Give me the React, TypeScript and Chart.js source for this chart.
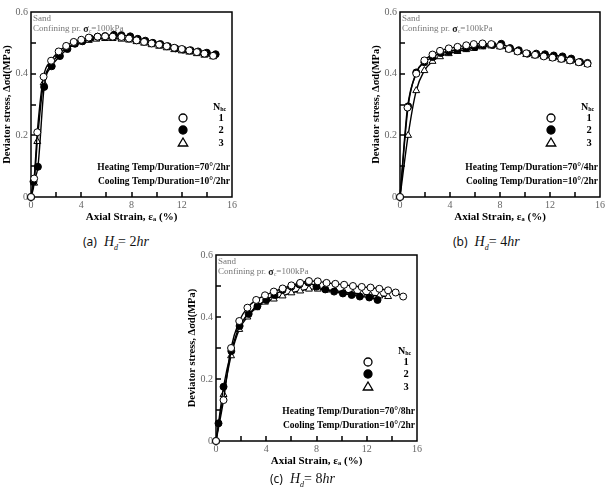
import React, { useEffect, useRef } from 'react';
import { Chart, registerables } from 'chart.js';

Chart.register(...registerables);

const SERIF = '"Liberation Serif", "Times New Roman", serif';

// ---------- axis definitions ----------
const X_TICKS = [0, 4, 8, 12, 16];
const Y_TICKS = [0, 0.2, 0.4, 0.6];
const X_TICK_MARKS = [2, 4, 6, 8, 10, 12, 14];
const Y_TICK_MARKS = [0.1, 0.2, 0.3, 0.4, 0.5];
const SERIES_LABELS = ['1', '2', '3'];

// ---------- panel (a) Hd = 2hr ----------
const strainA1 = [0, 0.25, 0.5, 1.0, 1.6, 2.2, 2.8, 3.4, 4.0, 4.6, 5.3, 5.9, 6.5, 7.2, 7.8, 8.4, 9.0, 9.6, 10.2, 10.8, 11.4, 12.0, 12.6, 13.2, 13.8, 14.5];
const stressA1 = [0, 0.06, 0.21, 0.39, 0.442, 0.472, 0.49, 0.503, 0.51, 0.517, 0.52, 0.521, 0.52, 0.519, 0.514, 0.508, 0.503, 0.498, 0.494, 0.489, 0.484, 0.48, 0.475, 0.47, 0.465, 0.458];
const strainA2 = [0, 0.2, 0.55, 1.05, 1.65, 2.3, 2.9, 3.5, 4.1, 4.7, 5.3, 5.9, 6.6, 7.2, 7.9, 8.5, 9.1, 9.7, 10.3, 10.9, 11.5, 12.1, 12.7, 13.3, 14.0, 14.7];
const stressA2 = [0, 0.05, 0.098, 0.357, 0.424, 0.457, 0.48, 0.497, 0.505, 0.515, 0.52, 0.522, 0.526, 0.525, 0.521, 0.513, 0.507, 0.5, 0.496, 0.489, 0.482, 0.478, 0.476, 0.472, 0.468, 0.463];
const strainA3 = [0, 0.25, 0.5, 1.0, 1.6, 2.2, 2.8, 3.4, 4.0, 4.6, 5.2, 5.9, 6.5, 7.2, 7.8, 8.4, 9.0, 9.6, 10.2, 10.8, 11.4, 12.0, 12.6, 13.2, 13.8, 14.5];
const stressA3 = [0, 0.045, 0.18, 0.37, 0.43, 0.462, 0.482, 0.495, 0.503, 0.508, 0.512, 0.514, 0.514, 0.512, 0.509, 0.504, 0.499, 0.494, 0.489, 0.484, 0.478, 0.474, 0.47, 0.465, 0.46, 0.455];

// ---------- panel (b) Hd = 4hr ----------
const strainB1 = [0, 0.6, 1.3, 1.95, 2.6, 3.2, 3.9, 4.6, 5.3, 5.9, 6.6, 7.3, 8.0, 8.7, 9.4, 10.1, 10.8, 11.5, 12.2, 12.9, 13.6, 14.3, 15.0];
const stressB1 = [0, 0.29, 0.4, 0.443, 0.462, 0.474, 0.482, 0.487, 0.492, 0.496, 0.498, 0.496, 0.49, 0.48, 0.472, 0.466, 0.461, 0.456, 0.452, 0.448, 0.443, 0.437, 0.432];
const strainB2 = [0, 0.65, 1.3, 1.95, 2.6, 3.25, 3.9, 4.6, 5.3, 6.0, 6.65, 7.4, 8.1, 8.8, 9.5, 10.2, 10.9, 11.6, 12.3, 13.0, 13.7, 14.4, 15.0];
const stressB2 = [0, 0.294, 0.404, 0.437, 0.454, 0.467, 0.472, 0.478, 0.483, 0.486, 0.492, 0.493, 0.497, 0.483, 0.476, 0.465, 0.465, 0.463, 0.459, 0.456, 0.449, 0.438, 0.435];
const strainB3 = [0, 0.65, 1.3, 1.95, 2.6, 3.2, 3.9, 4.6, 5.3, 5.9, 6.6, 7.3, 8.0, 8.7, 9.4, 10.1, 10.8, 11.5, 12.2, 12.9, 13.6, 14.3, 15.0];
const stressB3 = [0, 0.2, 0.345, 0.41, 0.44, 0.455, 0.465, 0.472, 0.478, 0.482, 0.487, 0.49, 0.487, 0.478, 0.47, 0.462, 0.458, 0.455, 0.45, 0.445, 0.44, 0.435, 0.43];

// ---------- panel (c) Hd = 8hr ----------
const strainC1 = [0, 0.6, 1.2, 1.85, 2.5, 3.2, 3.9, 4.6, 5.3, 6.0, 6.7, 7.4, 8.1, 8.8, 9.5, 10.2, 10.9, 11.6, 12.3, 13.0, 13.7, 14.3, 14.9];
const stressC1 = [0, 0.132, 0.3, 0.387, 0.43, 0.455, 0.47, 0.482, 0.492, 0.502, 0.51, 0.516, 0.515, 0.51, 0.507, 0.504, 0.5, 0.497, 0.495, 0.491, 0.486, 0.479, 0.466];
const strainC2 = [0, 0.2, 0.6, 1.22, 1.88, 2.6, 3.3, 4.0, 4.65, 5.3, 6.0, 6.64, 7.35, 8.0, 8.7, 9.4, 10.1, 10.8, 11.45, 12.2, 12.86];
const stressC2 = [0, 0.057, 0.175, 0.29, 0.371, 0.41, 0.435, 0.455, 0.471, 0.487, 0.498, 0.505, 0.511, 0.498, 0.489, 0.482, 0.476, 0.471, 0.466, 0.463, 0.455];
const strainC3 = [0, 0.6, 1.2, 1.85, 2.5, 3.2, 3.9, 4.6, 5.3, 6.0, 6.7, 7.4, 8.1, 8.8, 9.5, 10.2, 10.9, 11.6, 12.3, 13.0, 13.7];
const stressC3 = [0, 0.15, 0.275, 0.36, 0.4, 0.43, 0.448, 0.458, 0.468, 0.478, 0.484, 0.49, 0.49, 0.487, 0.485, 0.48, 0.477, 0.474, 0.47, 0.468, 0.466];

const HEATING = ['Heating Temp/Duration=70°/2hr', 'Heating Temp/Duration=70°/4hr', 'Heating Temp/Duration=70°/8hr'];
const COOLING = 'Cooling Temp/Duration=10°/2hr';
const CAPTION_TAGS = ['(a)', '(b)', '(c)'];
const CAPTION_HOURS = ['2', '4', '8'];

type Style = 'open' | 'filled' | 'tri';
const STYLES: Style[] = ['open', 'filled', 'tri'];

interface PanelDef {
  plot: { l: number; t: number; r: number; b: number };
  xs: number[][];
  ys: number[][];
  heating: string;
  caption: { tag: string; hours: string; x: number; y: number };
}

const PANELS: PanelDef[] = [
  { plot: { l: 31, t: 12, r: 232, b: 197 }, xs: [strainA1, strainA2, strainA3], ys: [stressA1, stressA2, stressA3], heating: HEATING[0], caption: { tag: CAPTION_TAGS[0], hours: CAPTION_HOURS[0], x: 83, y: 241 } },
  { plot: { l: 400, t: 12, r: 600, b: 197 }, xs: [strainB1, strainB2, strainB3], ys: [stressB1, stressB2, stressB3], heating: HEATING[1], caption: { tag: CAPTION_TAGS[1], hours: CAPTION_HOURS[1], x: 453, y: 241 } },
  { plot: { l: 216, t: 255, r: 417, b: 441 }, xs: [strainC1, strainC2, strainC3], ys: [stressC1, stressC2, stressC3], heating: HEATING[2], caption: { tag: CAPTION_TAGS[2], hours: CAPTION_HOURS[2], x: 270, y: 478 } },
];

function drawMarker(ctx: CanvasRenderingContext2D, style: Style, x: number, y: number, r: number) {
  ctx.beginPath();
  if (style === 'tri') {
    const h = r * 1.25;
    ctx.moveTo(x, y - h);
    ctx.lineTo(x + h * 0.95, y + h * 0.6);
    ctx.lineTo(x - h * 0.95, y + h * 0.6);
    ctx.closePath();
  } else {
    ctx.arc(x, y, r, 0, Math.PI * 2);
  }
  ctx.fillStyle = style === 'filled' ? '#000' : '#fff';
  ctx.fill();
  ctx.lineWidth = 1.3;
  ctx.strokeStyle = '#000';
  ctx.stroke();
}

function makeDecor(heating: string) {
  return {
    id: 'decor',
    beforeDatasetsDraw(chart: any) {
      const { ctx, chartArea: a, scales } = chart;
      ctx.save();
      ctx.strokeStyle = '#000';
      ctx.lineWidth = 1.5;
      ctx.strokeRect(a.left, a.top, a.right - a.left, a.bottom - a.top);
      ctx.beginPath();
      for (const v of X_TICK_MARKS) {
        const px = Math.round(scales.x.getPixelForValue(v));
        ctx.moveTo(px, a.bottom);
        ctx.lineTo(px, a.bottom - 5);
      }
      for (const v of Y_TICK_MARKS) {
        const py = Math.round(scales.y.getPixelForValue(v));
        ctx.moveTo(a.left, py);
        ctx.lineTo(a.left + 5, py);
      }
      ctx.stroke();
      ctx.restore();
    },
    afterDraw(chart: any) {
      const { ctx, chartArea: a } = chart;
      ctx.save();
      ctx.textBaseline = 'middle';
      // Sand / confining pressure
      ctx.fillStyle = '#777';
      ctx.font = `9px ${SERIF}`;
      ctx.textAlign = 'left';
      ctx.fillText('Sand', a.left + 2, a.top + 7);
      let x = a.left + 2;
      const y2 = a.top + 17;
      const seg1 = 'Confining pr. ';
      ctx.fillText(seg1, x, y2);
      x += ctx.measureText(seg1).width;
      ctx.fillStyle = '#222';
      ctx.font = `bold 10px ${SERIF}`;
      ctx.fillText('σ', x, y2);
      x += ctx.measureText('σ').width;
      ctx.fillStyle = '#777';
      ctx.font = `6px ${SERIF}`;
      ctx.fillText('c', x, y2 + 2);
      x += ctx.measureText('c').width;
      ctx.font = `9px ${SERIF}`;
      ctx.fillText('=100kPa', x, y2);

      // legend
      ctx.fillStyle = '#000';
      ctx.font = `bold 10px ${SERIF}`;
      const nx = a.right - 19;
      const ny = a.bottom - 90;
      ctx.fillText('N', nx, ny);
      const nw = ctx.measureText('N').width;
      ctx.font = `bold 6px ${SERIF}`;
      ctx.fillText('hc', nx + nw, ny + 2);
      const rows = [79, 67, 54];
      STYLES.forEach((s, i) => {
        const ry = a.bottom - rows[i];
        drawMarker(ctx, s, a.right - 49, ry, 4);
        ctx.fillStyle = '#000';
        ctx.font = `bold 10.5px ${SERIF}`;
        ctx.textAlign = 'center';
        ctx.fillText(SERIES_LABELS[i], a.right - 11, ry);
      });

      // heating / cooling
      ctx.textAlign = 'right';
      ctx.font = `bold 9.5px ${SERIF}`;
      ctx.fillStyle = '#000';
      ctx.fillText(heating, a.right - 2, a.bottom - 29);
      ctx.fillText(COOLING, a.right - 2, a.bottom - 15);
      ctx.restore();
    },
  };
}

function PanelChart({ panel }: { panel: PanelDef }) {
  const ref = useRef<HTMLCanvasElement>(null);
  const { plot } = panel;
  const left = plot.l - 31;
  const top = plot.t - 12;
  const right = Math.min(608, plot.r + 12);
  const W = right - left;
  const H = plot.b + 32 - top;

  useEffect(() => {
    if (!ref.current) return;
    const datasets = STYLES.map((s, i) => ({
      label: SERIES_LABELS[i],
      data: panel.xs[i].map((xv, j) => ({ x: xv, y: panel.ys[i][j] })),
      showLine: true,
      borderColor: '#000',
      borderWidth: 1.4,
      cubicInterpolationMode: 'monotone' as const,
      pointStyle: s === 'tri' ? 'triangle' : 'circle',
      pointRadius: s === 'tri' ? 4 : 3.5,
      pointBorderWidth: 1,
      pointBorderColor: '#000',
      pointBackgroundColor: s === 'filled' ? '#000' : '#fff',
      clip: false as any,
    }));
    const chart = new Chart(ref.current, {
      type: 'scatter',
      data: { datasets },
      plugins: [makeDecor(panel.heating)],
      options: {
        responsive: false,
        animation: false,
        devicePixelRatio: 1,
        layout: { padding: { left: 0, top: plot.t - top, right: right - plot.r, bottom: 0 } },
        plugins: { legend: { display: false }, tooltip: { enabled: false } },
        scales: {
          x: {
            type: 'linear',
            min: 0,
            max: 16,
            afterBuildTicks: (s: any) => { s.ticks = X_TICKS.map((v) => ({ value: v })); },
            afterFit: (s: any) => { s.height = H - (plot.b - top); },
            grid: { display: false, drawTicks: false },
            border: { display: false },
            ticks: { color: '#666', font: { family: SERIF, size: 10 }, padding: 2, maxRotation: 0 },
            title: {
              display: true,
              text: 'Axial Strain, εₐ (%)',
              color: '#000',
              font: { family: SERIF, size: 11, weight: 'bold' },
              padding: { top: 0, bottom: 5 },
            },
          },
          y: {
            type: 'linear',
            min: 0,
            max: 0.6,
            afterBuildTicks: (s: any) => { s.ticks = Y_TICKS.map((v) => ({ value: v })); },
            afterFit: (s: any) => { s.width = 31; },
            grid: { display: false, drawTicks: false },
            border: { display: false },
            ticks: {
              color: '#666',
              font: { family: SERIF, size: 10 },
              padding: 3,
              callback: (v: any) => (Number(v) === 0 ? '0' : Number(v).toFixed(1)),
            },
            title: {
              display: true,
              text: 'Deviator stress, Δσd(MPa)',
              color: '#000',
              font: { family: SERIF, size: 10.5, weight: 'bold' },
              padding: { top: 1, bottom: 0 },
            },
          },
        },
      } as any,
    });
    return () => chart.destroy();
  }, []);

  return (
    <canvas
      ref={ref}
      width={W}
      height={H}
      style={{ position: 'absolute', left, top, width: W, height: H }}
    />
  );
}

function Caption({ c }: { c: PanelDef['caption'] }) {
  return (
    <div
      style={{
        position: 'absolute',
        left: c.x,
        top: c.y - 9,
        height: 18,
        lineHeight: '18px',
        whiteSpace: 'nowrap',
        color: '#111',
      }}
    >
      <span style={{ fontFamily: '"Noto Sans", "DejaVu Sans", sans-serif', fontSize: 12 }}>{c.tag}</span>
      <span style={{ fontFamily: SERIF, fontSize: 14, marginLeft: 7 }}>
        <i>H</i>
        <sub style={{ fontSize: 8, fontStyle: 'italic' }}>d</sub>= {c.hours}
        <i>hr</i>
      </span>
    </div>
  );
}

export default function App() {
  return (
    <div
      style={{
        position: 'absolute',
        left: 0,
        top: 0,
        width: 608,
        height: 493,
        overflow: 'hidden',
        background: '#fff',
      }}
    >
      {PANELS.map((p, i) => (
        <PanelChart key={i} panel={p} />
      ))}
      {PANELS.map((p, i) => (
        <Caption key={'c' + i} c={p.caption} />
      ))}
    </div>
  );
}
